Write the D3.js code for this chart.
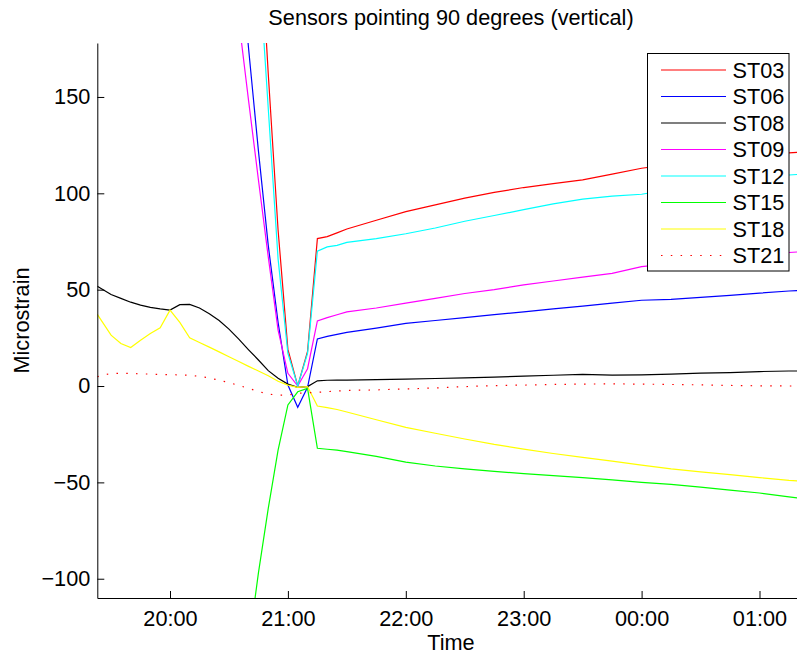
<!DOCTYPE html>
<html>
<head>
<meta charset="utf-8">
<script src="https://cdn.jsdelivr.net/npm/d3@7/dist/d3.min.js"></script>
<style>
  html, body { margin: 0; padding: 0; background: #fff; }
  svg { display: block; font-family: "Liberation Sans", Arial, Helvetica, sans-serif; }
</style>
</head>
<body>
<svg id="chart" width="797" height="654"></svg>
<script>
// Sample times (5-minute steps around the event, 15-minute steps afterwards)
const sampleTimes = [
  "19:23", "19:30", "19:35", "19:40", "19:45", "19:50", "19:55", "20:00", "20:05", "20:10",
  "20:15", "20:20", "20:25", "20:30", "20:35", "20:40", "20:45", "20:50", "20:55", "21:00",
  "21:05", "21:10", "21:15", "21:20", "21:25", "21:30", "21:45", "22:00", "22:15", "22:30",
  "22:45", "23:00", "23:15", "23:30", "23:45", "00:00", "00:15", "00:30", "00:45", "01:00",
  "01:15", "01:23"
];

// Strain readings per sensor (microstrain); null where no reading is kept
const st03 = [null, null, null, null, null, null, null, null, null, null,
  null, null, null, null, null, 340, 250, 162, 81, 19,
  0, 18, 76.5, 77.5, 79.5, 81.5, 86, 90.5, 94, 97.5,
  100.5, 103, 105, 107, 110, 113, 115, 116.5, 118, 119.5,
  121, 121.5];
const st06 = [null, null, null, null, null, null, null, null, null, null,
  null, null, null, null, 231, 175, 122, 73, 33, 0.5,
  -11, -0.7, 24.4, 25.8, 26.8, 27.8, 30, 32.5, 34, 35.5,
  37, 38.5, 40, 41.5, 43, 44.5, 45, 46, 47, 48.2,
  49.3, 49.8];
const st08 = [51.8, 47.5, 45.5, 43.5, 42, 40.8, 40, 39.4, 42.2, 42.4,
  40.5, 37.5, 34, 29.5, 24.3, 18.8, 13.5, 8, 4, 1,
  -0.7, -0.3, 2.7, 3.0, 3.1, 3.1, 3.3, 3.6, 3.9, 4.2,
  4.6, 5.1, 5.6, 6, 5.7, 5.8, 6.2, 6.7, 7.0, 7.5,
  7.8, 7.8];
const st09 = [null, null, null, null, null, null, null, null, null, null,
  null, null, null, 240, 190, 148, 107, 67, 29, 6.6,
  0, 9, 33.8, 35.5, 37, 38.5, 40.5, 43, 45.5, 48,
  50, 52.5, 54.5, 56.5, 58.5, 62, 63.5, 65, 66.5, 67.8,
  69.3, 69.8];
const st12 = [null, null, null, null, null, null, null, null, null, null,
  null, null, null, null, null, 310, 223, 144, 66, 17,
  0, 17, 70, 72.2, 73, 74.5, 76.5, 79, 82, 85.5,
  88.5, 91.5, 94.5, 97, 98.5, 99.5, 102, 104, 106, 107.8,
  109.5, 110];
const st15 = [null, null, null, null, null, null, null, null, null, null,
  null, null, null, null, null, -135, -97, -63.5, -33.3, -9.8,
  -3, -1.2, -32.3, -32.8, -33.3, -34, -36.5, -39.5, -41.5, -43,
  -44.3, -45.5, -46.5, -47.5, -48.7, -50, -51, -52.5, -54, -55.5,
  -57.5, -58.5];
const st18 = [37.2, 26.4, 22.1, 20.0, 23.8, 27.3, 30.2, 39.4, 33, 25,
  22.6, 20.2, 17.7, 15.2, 12.7, 10.2, 7.8, 5.3, 2.5, 0.5,
  -0.7, -0.3, -10.4, -11.2, -12.2, -13.5, -17.5, -21.5, -24.5, -27.5,
  -30.3, -32.7, -35, -37, -39, -41, -43, -44.6, -46, -47.5,
  -49, -49.5];
const st21 = [4.8, 6.6, 6.6, 6.5, 6.3, 6.2, 6.0, 5.9, 5.8, 5.6,
  5.0, 4.2, 3.0, 1.8, 0.3, -1.2, -2.8, -4.2, -4.7, -4.7,
  -3.8, -3.5, -3.3, -2.9, -2.6, -2.3, -2, -1.5, -1, -0.3,
  0.2, 0.5, 0.8, 1, 1.1, 1, 0.8, 0.6, 0.3, 0.1,
  0, 0];

const seriesNames = ["ST03", "ST06", "ST08", "ST09", "ST12", "ST15", "ST18", "ST21"];
const seriesValues = [st03, st06, st08, st09, st12, st15, st18, st21];
const seriesColors = ["#ff0000", "#0000ff", "#000000", "#ff00ff", "#00ffff", "#00ff00", "#ffff00", "#ff0000"];
const seriesDashes = [null, null, null, null, null, null, null, "1.5,8.3"];

const yTickValues = [-100, -50, 0, 50, 100, 150];
const xTickLabels = ["20:00", "21:00", "22:00", "23:00", "00:00", "01:00"];
const yLimits = [-110, 178];

// Times after midnight belong to the following day
const parseClock = d3.timeParse("%Y-%m-%d %H:%M");
function toDate(hm) {
  const h = +hm.slice(0, 2);
  return parseClock((h < 12 ? "2013-01-02 " : "2013-01-01 ") + hm);
}
const dates = sampleTimes.map(toDate);

const margin = { left: 97.3, right: 804.7, top: 43, bottom: 598 };
const fontSize = 21.7;

const svg = d3.select("#chart");

const x = d3.scaleTime()
  .domain([dates[0], dates[dates.length - 1]])
  .range([margin.left, margin.right]);
const y = d3.scaleLinear()
  .domain(yLimits)
  .range([margin.bottom, margin.top]);

svg.append("defs").append("clipPath").attr("id", "plotClip")
  .append("rect")
  .attr("x", margin.left).attr("y", margin.top)
  .attr("width", margin.right - margin.left)
  .attr("height", margin.bottom - margin.top);

// Series lines
const line = d3.line()
  .defined(d => d.v !== null)
  .x(d => x(d.t))
  .y(d => y(d.v));

const plot = svg.append("g").attr("clip-path", "url(#plotClip)");
seriesValues.forEach((vals, i) => {
  const pts = vals.map((v, k) => ({ t: dates[k], v: v }));
  plot.append("path")
    .datum(pts)
    .attr("fill", "none")
    .attr("stroke", seriesColors[i])
    .attr("stroke-width", 1.2)
    .attr("stroke-dasharray", seriesDashes[i])
    .attr("d", line);
});

// Axes with inward ticks
const xAxis = d3.axisBottom(x)
  .tickValues(xTickLabels.map(toDate))
  .tickFormat(d3.timeFormat("%H:%M"))
  .tickSizeInner(-7).tickSizeOuter(0).tickPadding(13);
const gx = svg.append("g")
  .attr("transform", `translate(0,${margin.bottom})`)
  .call(xAxis);

const yAxis = d3.axisLeft(y)
  .tickValues(yTickValues)
  .tickFormat(d => d < 0 ? "\u2212" + Math.abs(d) : d)
  .tickSizeInner(-7).tickSizeOuter(0).tickPadding(7);
const gy = svg.append("g")
  .attr("transform", `translate(${margin.left},0)`)
  .call(yAxis);

[gx, gy].forEach(g => {
  g.selectAll(".domain").attr("stroke", "#000").attr("stroke-width", 1);
  g.selectAll(".tick line").attr("stroke", "#000").attr("stroke-width", 1);
  g.selectAll("text")
    .attr("fill", "#000")
    .style("font-size", fontSize + "px")
    .style("font-family", "'Liberation Sans', Arial, sans-serif");
});
gx.selectAll(".tick text").attr("dy", "0.71em");

// Titles
svg.append("text")
  .attr("x", (margin.left + margin.right) / 2)
  .attr("y", 25)
  .attr("text-anchor", "middle")
  .style("font-size", fontSize + "px")
  .text("Sensors pointing 90 degrees (vertical)");

svg.append("text")
  .attr("x", (margin.left + margin.right) / 2)
  .attr("y", 650)
  .attr("text-anchor", "middle")
  .style("font-size", fontSize + "px")
  .text("Time");

svg.append("text")
  .attr("transform", `translate(29,${(margin.top + margin.bottom) / 2}) rotate(-90)`)
  .attr("text-anchor", "middle")
  .style("font-size", fontSize + "px")
  .text("Microstrain");

// Legend
const legend = svg.append("g");
legend.append("rect")
  .attr("x", 647.5).attr("y", 53.5)
  .attr("width", 141.5).attr("height", 217.5)
  .attr("fill", "#fff").attr("stroke", "#000").attr("stroke-width", 1);
seriesNames.forEach((name, i) => {
  const cy = 70 + i * 26.5;
  legend.append("line")
    .attr("x1", 661).attr("x2", 726)
    .attr("y1", cy).attr("y2", cy)
    .attr("stroke", seriesColors[i])
    .attr("stroke-width", 1.2)
    .attr("stroke-dasharray", seriesDashes[i]);
  legend.append("text")
    .attr("x", 732.5).attr("y", cy)
    .attr("dy", "0.36em")
    .style("font-size", fontSize + "px")
    .text(name);
});
</script>
</body>
</html>
